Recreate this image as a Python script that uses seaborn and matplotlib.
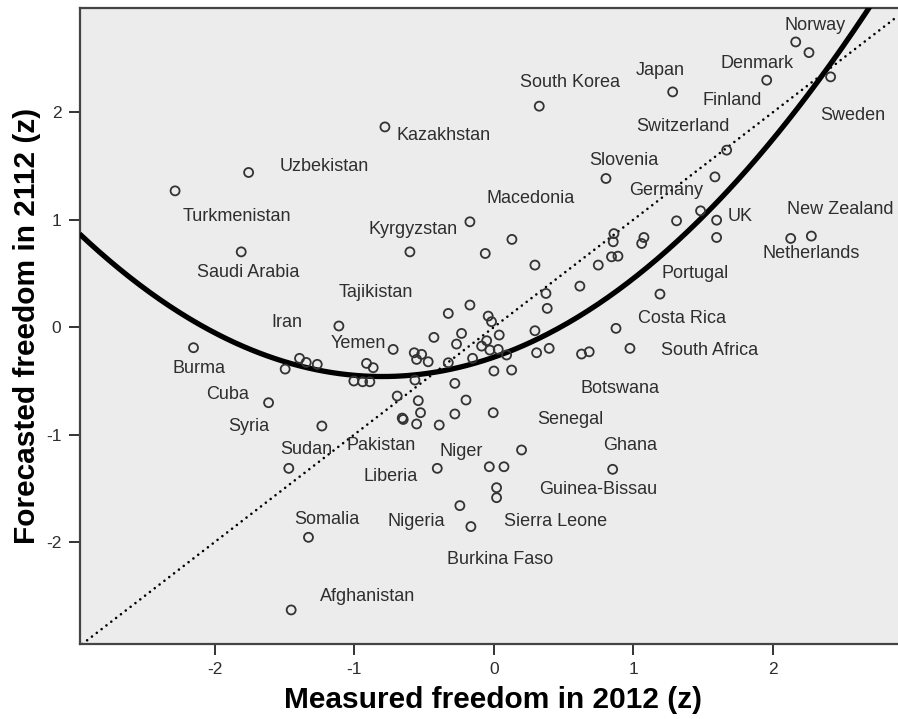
import numpy as np
import pandas as pd
import matplotlib
matplotlib.use("Agg")
import matplotlib.pyplot as plt
import seaborn as sns

# Measured freedom in 2012 (z) and forecasted freedom in 2112 (z), one value per country
freedom_2012 = [
    2.163, 2.258, 1.955, 2.413, 1.281, 0.325, -0.781, 1.668, -1.758, 0.803,
    1.584, -2.285, 1.481, 1.309, 1.596, 1.596, 1.075, 1.059, 2.127, 2.275,
    -0.172, -1.811, -0.602, -0.062, 0.129, 0.294, 0.373, 0.382, 0.616, 0.748,
    0.843, 0.889, 0.855, 0.860, 1.190, -0.327, -0.172, -0.041, -0.017, -1.111,
    -2.153, -1.496, -1.393, -1.345, -1.266, -1.004, -0.722, -0.571, -0.518, -0.554,
    -0.471, -0.913, -0.865, -0.941, -0.889, -0.430, -0.232, -0.268, 0.038, -0.088,
    -0.052, -0.029, 0.031, 0.091, -0.153, 0.294, 0.306, 0.396, 0.628, 0.683,
    0.875, 0.975, -0.327, -0.566, -0.280, 0.000, 0.127, -0.693, -0.542, -0.200,
    -0.526, -0.657, -0.650, -0.554, -0.392, -0.280, -0.005, -1.615, -1.233, -1.470,
    0.198, -0.406, -0.033, 0.072, 0.019, 0.019, 0.851, -0.244, -0.165, -1.329,
    -1.453,
]
freedom_2112 = [
    2.654, 2.555, 2.298, 2.329, 2.189, 2.056, 1.863, 1.647, 1.439, 1.383,
    1.398, 1.268, 1.082, 0.989, 0.995, 0.834, 0.834, 0.778, 0.825, 0.847,
    0.980, 0.700, 0.700, 0.685, 0.816, 0.577, 0.313, 0.174, 0.381, 0.577,
    0.654, 0.660, 0.794, 0.870, 0.307, 0.127, 0.205, 0.102, 0.050, 0.010,
    -0.192, -0.391, -0.291, -0.329, -0.347, -0.502, -0.208, -0.239, -0.254, -0.301,
    -0.323, -0.338, -0.378, -0.509, -0.509, -0.096, -0.059, -0.158, -0.074, -0.177,
    -0.127, -0.214, -0.208, -0.260, -0.291, -0.034, -0.239, -0.198, -0.251, -0.230,
    -0.012, -0.198, -0.332, -0.493, -0.524, -0.409, -0.400, -0.642, -0.685, -0.679,
    -0.797, -0.847, -0.860, -0.902, -0.912, -0.809, -0.797, -0.704, -0.921, -1.315,
    -1.144, -1.315, -1.300, -1.300, -1.495, -1.588, -1.324, -1.662, -1.857, -1.957,
    -2.633,
]

# Quadratic fit of 2112 on 2012 (highest power first)
fit_coefficients = [0.282, 0.451, -0.280]

# Country names written on the chart
country_names = [
    "Norway", "Denmark", "Japan", "South Korea", "Finland", "Sweden", "Switzerland",
    "Kazakhstan", "Slovenia", "Uzbekistan", "Turkmenistan", "Germany", "Macedonia",
    "UK", "New Zealand", "Kyrgyzstan", "Netherlands", "Saudi Arabia", "Portugal",
    "Tajikistan", "Costa Rica", "Iran", "Yemen", "South Africa", "Burma", "Botswana",
    "Cuba", "Senegal", "Syria", "Pakistan", "Ghana", "Sudan", "Niger", "Liberia",
    "Guinea-Bissau", "Somalia", "Nigeria", "Sierra Leone", "Burkina Faso", "Afghanistan",
]
# Where each name sits (data units, centre of the text)
name_x = [
    2.299, 1.887, 1.194, 0.547, 1.711, 2.570, 1.353,
    -0.364, 0.930, -1.213, -1.844, 1.232, 0.264,
    1.766, 2.482, -0.578, 2.276, -1.758, 1.444,
    -0.846, 1.345, -1.484, -0.971, 1.548, -2.110, 0.901,
    -1.909, 0.548, -1.754, -0.806, 0.977, -1.346, -0.232, -0.741,
    0.746, -1.198, -0.557, 0.443, 0.043, -0.902,
]
name_y = [
    2.809, 2.453, 2.384, 2.273, 2.105, 1.972, 1.863,
    1.786, 1.553, 1.491, 1.033, 1.274, 1.200,
    1.033, 1.095, 0.909, 0.686, 0.505, 0.500,
    0.321, 0.081, 0.040, -0.152, -0.214, -0.384, -0.570,
    -0.623, -0.859, -0.921, -1.102, -1.102, -1.138, -1.160, -1.393,
    -1.510, -1.789, -1.811, -1.811, -2.161, -2.512,
]

tick_values = [-2, -1, 0, 1, 2]

sns.set_theme(style="white")
plt.rcParams["font.family"] = ["Liberation Sans", "DejaVu Sans"]

ink = "#2e2e2e"

fig = plt.figure(figsize=(8.98, 7.19), dpi=100)
fig.patch.set_facecolor("white")
ax = fig.add_axes([79.5 / 898, 75 / 719, (898 - 79.5) / 898, (644 - 8) / 719])
ax.set_facecolor("#ececec")

ax.set_xlim(-2.97, 2.896)
ax.set_ylim(-2.95, 2.97)

# Reference line: no change between 2012 and 2112
ax.axline((0, 0), slope=1, color="black", lw=1.9, linestyle=(0, (0.01, 2.3)),
          dash_capstyle="round", zorder=2)

# Fitted quadratic trend
grid = np.linspace(-2.97, 2.75, 400)
trend = pd.DataFrame({"x": grid, "y": np.polyval(fit_coefficients, grid)})
sns.lineplot(data=trend, x="x", y="y", ax=ax, color="black", lw=3.8, zorder=3,
             solid_capstyle="butt")

points = pd.DataFrame({"m2012": freedom_2012, "f2112": freedom_2112})
sns.scatterplot(data=points, x="m2012", y="f2112", ax=ax, marker="o", s=42,
                facecolor="none", edgecolor="#333333", linewidth=1.3, zorder=4)

for name, tx, ty in zip(country_names, name_x, name_y):
    ax.text(tx, ty, name, ha="center", va="center", fontsize=13, color=ink, zorder=5)

ax.set_xticks(tick_values)
ax.set_yticks(tick_values)
ax.set_xticklabels([str(v) for v in tick_values], fontsize=12.5, color=ink)
ax.set_yticklabels([str(v) for v in tick_values], fontsize=12.5, color=ink)
ax.tick_params(axis="both", direction="out", length=8, width=1.4, color="#333333",
               pad=5, bottom=True, left=True, top=False, right=False)

for side in ["left", "bottom", "top"]:
    ax.spines[side].set_visible(True)
    ax.spines[side].set_color("#444444")
    ax.spines[side].set_linewidth(1.6)
ax.spines["right"].set_visible(False)

ax.set_xlabel("Measured freedom in 2012 (z)", fontsize=21.5,
              fontweight="bold", color="black")
ax.set_ylabel("Forecasted freedom in 2112 (z)", fontsize=21.5,
              fontweight="bold", color="black")
ax.xaxis.label.set_va("center")
ax.yaxis.label.set_va("center")
ax.xaxis.set_label_coords((493 - 79.5) / 818.5, (644 - 700) / 636)
ax.yaxis.set_label_coords((27 - 79.5) / 818.5, 0.5)

fig.savefig("out.png", dpi=100)
